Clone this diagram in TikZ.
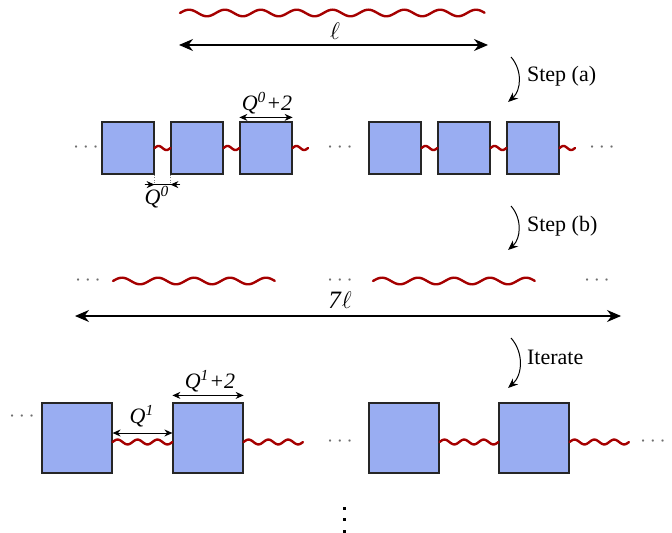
\documentclass[tikz,border=0pt]{standalone}
\usepackage{fontspec}
\setmainfont{Liberation Serif}
\usetikzlibrary{arrows.meta,calc}
\definecolor{boxblue}{RGB}{153,173,242}
\definecolor{wavered}{RGB}{165,0,0}
\definecolor{dotgray}{RGB}{110,110,110}
% wavy line: #1 start, #2 end, #3 periods, #4 amplitude (px units)
\newcommand\wavy[4]{%
  \draw[wavestyle] let \p1=#1, \p2=#2 in
    plot[domain=0:1,samples=161,smooth,variable=\u]
    ({\x1+(\x2-\x1)*\u},{\y1+(\y2-\y1)*\u+#4*0.5pt*sin(\u*#3*360)});}
\begin{document}
\begin{tikzpicture}[x=0.5pt,y=-0.5pt,
  font=\fontsize{11}{13}\selectfont,
  sbox/.style={draw=black!85,line width=0.6pt,fill=boxblue,minimum size=26pt,inner sep=0pt},
  bbox/.style={sbox,minimum size=35pt},
  wavestyle/.style={draw=wavered,line width=1.2pt,line cap=round},
  dim/.style={{Stealth[length=4pt,width=3.5pt]}-{Stealth[length=4pt,width=3.5pt]},line width=0.5pt},
  bigdim/.style={{Stealth[length=7pt,width=6pt]}-{Stealth[length=7pt,width=6pt]},line width=0.6pt},
  tip/.style={-{Stealth[length=4pt,width=3.5pt]},line width=0.5pt},
  steparrow/.style={-{Stealth[length=5pt,width=4pt]},line width=0.5pt},
  dots/.style={text=dotgray,inner sep=0pt},
  guide/.style={densely dotted,draw=gray,line width=0.3pt}
]
\useasboundingbox (0,0) rectangle (672,533);

% ---- top wave and length l
\coordinate (t1) at (180,13);
\coordinate (t2) at (485,13);
\wavy{(t1)}{(t2)}{8.5}{3.3}
\coordinate (l1) at (179,45);
\coordinate (l2) at (488,45);
\draw[bigdim] (l1) -- (l2);
\node (ell) at (335,31) {\fontsize{12.5}{14}\selectfont$\ell$};

% ---- step (a)
\coordinate (sa1) at (511,57);
\coordinate (sa2) at (508,102);
\draw[steparrow] (sa1) to[bend left=45] (sa2);
\node[anchor=west] (sta) at (520,76) {Step (a)};

% ---- row 1
\node[sbox] (a1) at (128,148) {};
\node[sbox] (a2) at (197,148) {};
\node[sbox] (a3) at (266,148) {};
\node[sbox] (a4) at (395,148) {};
\node[sbox] (a5) at (464,148) {};
\node[sbox] (a6) at (533,148) {};
\coordinate (a3e) at (308,148);
\coordinate (a6e) at (575,148);
\wavy{(a1.east)}{(a2.west)}{1}{2}
\wavy{(a2.east)}{(a3.west)}{1}{2}
\wavy{(a3.east)}{(a3e)}{1}{2}
\wavy{(a4.east)}{(a5.west)}{1}{2}
\wavy{(a5.east)}{(a6.west)}{1}{2}
\wavy{(a6.east)}{(a6e)}{1}{2}
\node[dots] (d11) at (86,148) {$\cdots$};
\node[dots] (d12) at (340,148) {$\cdots$};
\node[dots] (d13) at (602,148) {$\cdots$};

% Q0+2
\draw[dim] ([yshift=2pt]a3.north west) -- ([yshift=2pt]a3.north east);
\node (q02) at (267,103) {\textit{Q}\textsuperscript{\textit{0}}\textit{+2}};
% Q0
\coordinate (q0l) at ([yshift=-5pt]a1.south east);
\coordinate (q0r) at ([yshift=-5pt]a2.south west);
\draw[guide] (a1.south east) -- (q0l);
\draw[guide] (a2.south west) -- (q0r);
\draw[line width=0.5pt] ([xshift=-5pt]q0l) -- ([xshift=5pt]q0r);
\draw[tip] ([xshift=-5pt]q0l) -- (q0l);
\draw[tip] ([xshift=5pt]q0r) -- (q0r);
\node (q0) at (157,197) {\textit{Q}\textsuperscript{\textit{0}}};

% ---- step (b)
\coordinate (sb1) at (511,206);
\coordinate (sb2) at (508,250);
\draw[steparrow] (sb1) to[bend left=45] (sb2);
\node[anchor=west] (stb) at (520,226) {Step (b)};

% ---- row 2
\coordinate (r1) at (113,281);
\coordinate (r2) at (275,281);
\coordinate (r3) at (373,281);
\coordinate (r4) at (535,281);
\wavy{(r1)}{(r2)}{4.5}{3.3}
\wavy{(r3)}{(r4)}{4.5}{3.3}
\node[dots] (d21) at (88,281) {$\cdots$};
\node[dots] (d22) at (340,281) {$\cdots$};
\node[dots] (d23) at (597,281) {$\cdots$};
\coordinate (m1) at (75,316);
\coordinate (m2) at (621,316);
\draw[bigdim] (m1) -- (m2);
\node (sevenl) at (340,300) {\fontsize{12.5}{14}\selectfont\textit{7}$\ell$};

% ---- iterate
\coordinate (si1) at (511,338);
\coordinate (si2) at (508,388);
\draw[steparrow] (si1) to[bend left=45] (si2);
\node[anchor=west] (sti) at (520,357) {Iterate};

% ---- row 3
\node[bbox] (c1) at (77,438) {};
\node[bbox] (c2) at (208,438) {};
\node[bbox] (c3) at (404,438) {};
\node[bbox] (c4) at (534,438) {};
\coordinate (c2e) at (303,442);
\coordinate (c4e) at (629,442);
\wavy{([yshift=-2pt]c1.east)}{([yshift=-2pt]c2.west)}{3}{2.4}
\wavy{([yshift=-2pt]c2.east)}{(c2e)}{3}{2.4}
\wavy{([yshift=-2pt]c3.east)}{([yshift=-2pt]c4.west)}{3}{2.4}
\wavy{([yshift=-2pt]c4.east)}{(c4e)}{3}{2.4}
\node[dots] (d31) at (22,417) {$\cdots$};
\node[dots] (d32) at (340,442) {$\cdots$};
\node[dots] (d33) at (653,442) {$\cdots$};

% Q1
\draw[dim] ([yshift=2.5pt]c1.east) -- ([yshift=2.5pt]c2.west);
\node (q1) at (142,416) {\textit{Q}\textsuperscript{\textit{1}}};
% Q1+2
\draw[dim] ([yshift=3.5pt]c2.north west) -- ([yshift=3.5pt]c2.north east);
\node (q12) at (210,381) {\textit{Q}\textsuperscript{\textit{1}}\textit{+2}};

% ---- vertical dots
\fill (342.5,506.5) rectangle ++(3,3);
\fill (342.5,517.5) rectangle ++(3,3);
\fill (342.5,529.5) rectangle ++(3,3);
\end{tikzpicture}
\end{document}
